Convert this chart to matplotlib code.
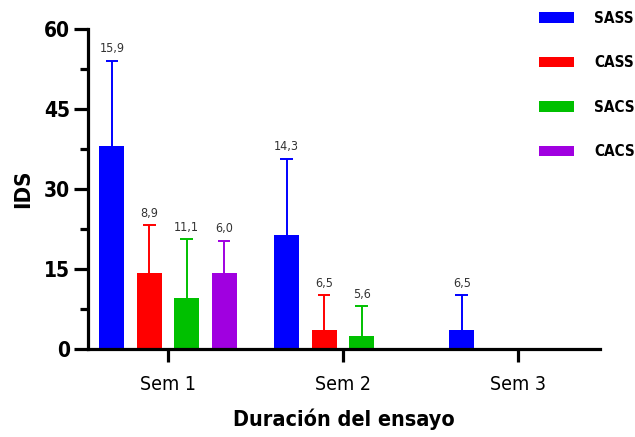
import numpy as np
import matplotlib
matplotlib.use("agg")
import matplotlib.pyplot as plt

plt.rcParams['font.family'] = ['DejaVu Sans']
plt.rcParams['font.stretch'] = 'condensed'

weeks = ["Sem 1", "Sem 2", "Sem 3"]
groups = ["SASS", "CASS", "SACS", "CACS"]
colors = ["#0000FF", "#FF0000", "#00C000", "#A000E0"]

# mean IDS per group, one value per week
means = {
    "SASS": [38.1, 21.4, 3.6],
    "CASS": [14.3, 3.6, 0.0],
    "SACS": [9.5, 2.4, 0.0],
    "CACS": [14.3, 0.0, 0.0],
}
# standard deviation (label shown above each bar)
sds = {
    "SASS": [15.9, 14.3, 6.5],
    "CASS": [8.9, 6.5, 0.0],
    "SACS": [11.1, 5.6, 0.0],
    "CACS": [6.0, 0.0, 0.0],
}

fig = plt.figure(figsize=(6.35, 4.37), dpi=100)
ax = fig.add_axes([0.1386, 0.2014, 0.8064, 0.7322])

x = np.arange(len(weeks))
step = 0.214
width = 0.143
cap = 0.036

for i, g in enumerate(groups):
    xs = x + (i - 1.5) * step
    m = np.array(means[g])
    s = np.array(sds[g])
    ax.bar(xs, m, width, color=colors[i], label=g, linewidth=0, zorder=2)
    keep = m > 0
    top = m + s
    # upper error bar only
    ax.vlines(xs[keep], m[keep], top[keep], color=colors[i], lw=1.4, zorder=1)
    ax.hlines(top[keep], xs[keep] - cap, xs[keep] + cap, color=colors[i], lw=1.4, zorder=1)
    for xi, ti, si in zip(xs[keep], top[keep], s[keep]):
        ax.annotate(("%.1f" % si).replace(".", ","), (xi, ti),
                    xytext=(0, 4), textcoords="offset points",
                    ha="center", va="bottom", fontsize=9, color="#333333")

ax.set_xlim(-0.457, 2.47)
ax.set_ylim(0, 60)
ax.set_yticks([0, 15, 30, 45, 60])
ax.set_yticks(np.arange(7.5, 60, 15), minor=True)
ax.set_xticks(x)
ax.set_xticklabels(weeks)

for side in ["top", "right"]:
    ax.spines[side].set_visible(False)
for side in ["left", "bottom"]:
    ax.spines[side].set_linewidth(2.3)
ax.spines["bottom"].set_zorder(3)

ax.tick_params(axis="y", which="major", length=10, width=2.3, labelsize=15, pad=3)
ax.tick_params(axis="y", which="minor", length=6, width=2.3)
ax.tick_params(axis="x", length=9, width=2.3, labelsize=14, pad=10)
for lab in ax.get_yticklabels():
    lab.set_fontweight("bold")

ax.set_ylabel("IDS", fontsize=16, fontweight="bold", labelpad=8)
ax.set_xlabel("Duración del ensayo", fontsize=15.5, fontweight="bold", labelpad=10)

ax.legend(loc="upper left", bbox_to_anchor=(0.881, 1.057), frameon=False,
          borderpad=0, borderaxespad=0,
          handlelength=2.29, handleheight=0.7, handletextpad=1.3,
          labelspacing=1.93, prop={"weight": "bold", "size": 11})

fig.savefig("out.png", dpi=100)
